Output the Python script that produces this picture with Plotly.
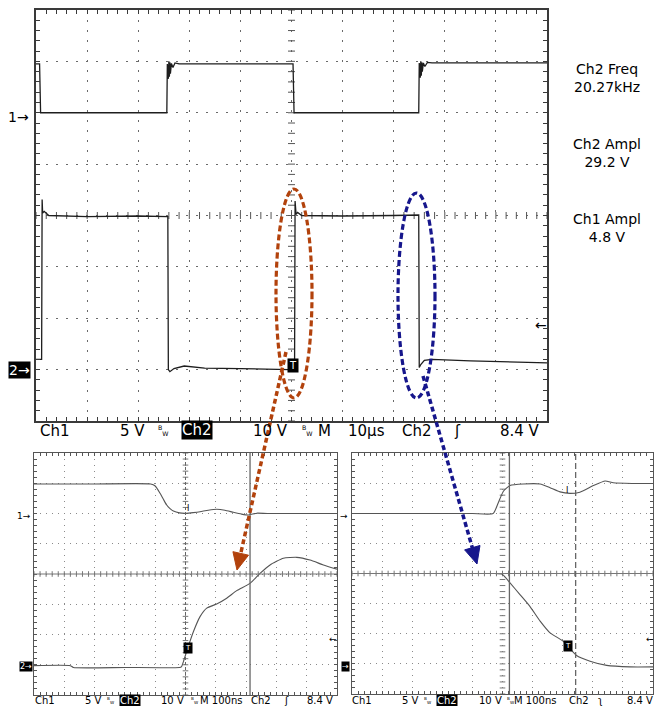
import math
import numpy as np
import plotly.graph_objects as go

W, H = 655, 706

# ---------------- data (divisions: x 0..10, y -4..4) ----------------
# main capture, 10 us/div
main_ch1_t = [0.00, 0.07, 0.09, 2.56, 2.57, 2.59, 2.60, 2.61, 2.62, 2.63, 2.65, 2.68, 2.72, 2.80,
              5.03, 5.05, 7.49, 7.50, 7.52, 7.53, 7.54, 7.55, 7.56, 7.58, 7.61, 7.66, 7.75, 10.0]
main_ch1_v = [2.95, 2.95, 2.00, 2.00, 2.95, 2.66, 3.00, 2.70, 2.98, 2.76, 2.96, 2.88, 2.97, 2.95,
              2.95, 2.00, 2.00, 2.97, 2.68, 3.00, 2.72, 2.98, 2.80, 2.97, 2.90, 2.98, 2.97, 2.97]
main_ch2_t = [0.00, 0.11, 0.12, 0.13, 0.16, 0.25, 1.0, 2.0, 2.58, 2.59,
              2.62, 2.70, 2.90, 3.3, 4.0, 4.95, 5.06, 5.07, 5.09, 5.12,
              5.20, 6.0, 7.0, 7.49, 7.50, 7.53, 7.60, 7.75, 8.5, 10.0]
main_ch2_v = [-2.80, -2.80, 0.31, 0.05, 0.08, 0.00, -0.02, -0.01, -0.02, -3.00,
              -3.04, -2.98, -2.93, -2.97, -2.98, -3.00, -2.98, 0.28, 0.02, 0.06,
              0.00, -0.01, 0.00, 0.01, -2.96, -2.90, -2.82, -2.80, -2.83, -2.87]

# zoom of falling Ch1 edge, 100 ns/div
zl_ch1_t = [0.00, 2.00, 3.85, 4.00, 4.16, 4.27, 4.38, 4.49, 4.60, 4.80, 5.02, 5.25, 5.48, 5.75, 6.03,
            6.30, 6.58, 6.85, 7.07, 7.35, 7.70, 9.00, 10.00]
zl_ch1_v = [2.975, 2.975, 2.975, 2.91, 2.67, 2.47, 2.28, 2.16, 2.08, 2.02, 2.01, 2.03, 2.06, 2.11, 2.14,
            2.11, 2.04, 1.98, 1.95, 2.01, 2.00, 2.00, 2.00]
zl_ch2_t = [0.00, 1.20, 1.30, 3.00, 4.80, 4.87, 4.93, 5.09, 5.26, 5.48, 5.70, 6.03, 6.36, 6.69, 7.13,
            7.46, 7.79, 8.23, 8.67, 9.11, 9.55, 10.00]
zl_ch2_v = [-3.03, -3.03, -3.09, -3.09, -3.09, -3.06, -2.90, -2.40, -1.91, -1.41, -1.13, -0.99, -0.80,
            -0.55, -0.31, 0.02, 0.30, 0.52, 0.55, 0.46, 0.30, 0.16]

# zoom of rising Ch1 edge, 100 ns/div
zr_ch1_t = [0.00, 2.00, 4.00, 4.69, 4.86, 5.03, 5.25, 5.69, 6.25, 6.58, 6.91, 7.24, 7.57, 8.02, 8.41,
            8.68, 9.30, 10.00]
zr_ch1_v = [1.99, 1.99, 1.99, 1.99, 2.35, 2.73, 2.92, 2.97, 2.97, 2.85, 2.71, 2.66, 2.70, 2.92, 3.07,
            3.01, 2.99, 2.99]
zr_ch2_t = [0.00, 2.00, 4.00, 4.70, 5.00, 5.25, 5.58, 5.91, 6.25, 6.58, 7.02, 7.46, 7.91, 8.46, 9.24, 10.00]
zr_ch2_v = [0.00, 0.00, 0.00, 0.00, -0.03, -0.31, -0.70, -1.09, -1.58, -1.97, -2.25, -2.72, -2.91, -3.05,
            -3.10, -3.10]

zl_cursor_t = [7.13]
zr_cursor_t = [5.23, 7.43]

measure_names = ["Ch2 Freq", "Ch2 Ampl", "Ch1 Ampl"]
measure_values = ["20.27kHz", "29.2 V", "4.8 V"]

main_status = ["Ch1", "5 V", "Ch2", "10 V", "M", "10µs", "Ch2", "ʃ", "8.4 V"]
zoom_status_left = ["Ch1", "5 V", "Ch2", "10 V", "M 100ns", "Ch2", "ʃ", "8.4 V"]
zoom_status_right = ["Ch1", "5 V", "Ch2", "10 V", "M 100ns", "Ch2", "ʅ", "8.4 V"]

# ---------------- helpers ----------------
def px(x):
    return x / W


def py(y):
    return 1 - y / H


FONT = "DejaVu Sans"
ORANGE = "#b2420c"
BLUE = "#16168c"

fig = go.Figure()


def axis(dom, rng, dash, tl, lw, lc, gc, anchor):
    return dict(domain=dom, range=rng, showgrid=True, gridcolor=gc, griddash=dash, gridwidth=1,
                dtick=1, tick0=rng[0], showline=True, linecolor=lc, linewidth=lw, mirror="ticks",
                ticks="inside", ticklen=tl, tickcolor=lc, tickwidth=1, showticklabels=False,
                zeroline=False, fixedrange=True, anchor=anchor,
                minor=dict(ticks="inside", dtick=0.2, tick0=rng[0], ticklen=tl, tickcolor=lc,
                           tickwidth=1, showgrid=False))


main_dx = [px(36), px(547)]
main_dy = [py(421), py(10)]
zl_dx = [px(34), px(337)]
zl_dy = [py(695), py(453)]
zr_dx = [px(352), px(653)]
zr_dy = [py(694), py(453)]

layout = dict(
    width=W, height=H, margin=dict(l=0, r=0, t=0, b=0),
    paper_bgcolor="white", plot_bgcolor="white", showlegend=False,
    xaxis=axis(main_dx, [0, 10], "2px,8px", 4, 2, "#3a3a3a", "#6a6a6a", "y"),
    yaxis=axis(main_dy, [-4, 4], "2px,8px", 4, 2, "#3a3a3a", "#6a6a6a", "x"),
    xaxis2=axis(zl_dx, [0, 10], "1px,5px", 3, 1.2, "#555", "#8a8a8a", "y2"),
    yaxis2=axis(zl_dy, [-4, 4], "1px,5px", 3, 1.2, "#555", "#8a8a8a", "x2"),
    xaxis3=axis(zr_dx, [0, 10], "1px,5px", 3, 1.2, "#555", "#8a8a8a", "y3"),
    yaxis3=axis(zr_dy, [-4, 4], "1px,5px", 3, 1.2, "#555", "#8a8a8a", "x3"),
)
fig.update_layout(**layout)

# center crosshair ticks
for xa, ya, sz, col in [("x", "y", 5, "#555"), ("x2", "y2", 4, "#777"), ("x3", "y3", 4, "#777")]:
    hx = np.arange(0, 10.001, 0.2)
    fig.add_trace(go.Scatter(x=hx, y=np.zeros_like(hx), xaxis=xa, yaxis=ya, mode="markers",
                             marker=dict(symbol="line-ns", size=sz, line=dict(width=1, color=col)),
                             hoverinfo="skip"))
    vy = np.arange(-4, 4.001, 0.2)
    fig.add_trace(go.Scatter(x=np.full_like(vy, 5.0), y=vy, xaxis=xa, yaxis=ya, mode="markers",
                             marker=dict(symbol="line-ew", size=sz, line=dict(width=1, color=col)),
                             hoverinfo="skip"))

shapes = []
# solid centre lines for zoomed captures
shapes.append(dict(type="line", xref="x2", yref="y2", x0=0, x1=10, y0=0, y1=0,
                   line=dict(color="#777", width=1)))
shapes.append(dict(type="line", xref="x2", yref="y2", x0=5, x1=5, y0=-4, y1=4,
                   line=dict(color="#666", width=1, dash="3px,2px")))
shapes.append(dict(type="line", xref="x3", yref="y3", x0=0, x1=10, y0=0, y1=0,
                   line=dict(color="#777", width=1)))
# cursors
for t in zl_cursor_t:
    shapes.append(dict(type="line", xref="x2", yref="y2", x0=t, x1=t, y0=-4, y1=4,
                       line=dict(color="#666", width=1.3)))
shapes.append(dict(type="line", xref="x3", yref="y3", x0=zr_cursor_t[0], x1=zr_cursor_t[0], y0=-4, y1=4,
                   line=dict(color="#666", width=1.3)))
shapes.append(dict(type="line", xref="x3", yref="y3", x0=zr_cursor_t[1], x1=zr_cursor_t[1], y0=-4, y1=4,
                   line=dict(color="#666", width=1.3, dash="6px,3px")))

# waveforms
fig.add_trace(go.Scatter(x=main_ch1_t, y=main_ch1_v, mode="lines", line=dict(color="#1e1e1e", width=1.3),
                         hoverinfo="skip"))
fig.add_trace(go.Scatter(x=main_ch2_t, y=main_ch2_v, mode="lines", line=dict(color="#1e1e1e", width=1.3),
                         hoverinfo="skip"))
for t, v, xa, ya in [(zl_ch1_t, zl_ch1_v, "x2", "y2"), (zl_ch2_t, zl_ch2_v, "x2", "y2"),
                     (zr_ch1_t, zr_ch1_v, "x3", "y3"), (zr_ch2_t, zr_ch2_v, "x3", "y3")]:
    fig.add_trace(go.Scatter(x=t, y=v, xaxis=xa, yaxis=ya, mode="lines",
                             line=dict(color="#555", width=1.1, shape="spline", smoothing=0.5),
                             hoverinfo="skip"))

# ellipses
shapes.append(dict(type="circle", xref="paper", yref="paper", x0=px(276), x1=px(312), y0=py(398), y1=py(189),
                   line=dict(color=ORANGE, width=3.2, dash="6px,3px")))
shapes.append(dict(type="circle", xref="paper", yref="paper", x0=px(398), x1=px(435), y0=py(398), y1=py(193),
                   line=dict(color=BLUE, width=3.2, dash="6px,3px")))


def arrow(x0, y0, x1, y1, color):
    dx, dy = x1 - x0, y1 - y0
    L = math.hypot(dx, dy)
    ux, uy = dx / L, dy / L
    hl, hw = 17, 8
    bx, by = x1 - hl * ux, y1 - hl * uy
    pxv, pyv = -uy, ux
    shapes.append(dict(type="line", xref="paper", yref="paper", x0=px(x0), y0=py(y0),
                       x1=px(bx + 2 * ux), y1=py(by + 2 * uy),
                       line=dict(color=color, width=3.5, dash="5px,3px")))
    pts = [(x1, y1), (bx + hw * pxv, by + hw * pyv), (bx - hw * pxv, by - hw * pyv)]
    path = "M " + " L ".join(f"{px(a):.5f},{py(b):.5f}" for a, b in pts) + " Z"
    shapes.append(dict(type="path", xref="paper", yref="paper", path=path,
                       fillcolor=color, line=dict(color=color, width=1)))


arrow(286, 352, 237, 570, ORANGE)
arrow(423, 376, 477, 564, BLUE)

fig.update_layout(shapes=shapes)

ann = []


def text(t, x, y, size, color="black", bg=None, xanchor="center", pad=0):
    d = dict(text=t, x=px(x), y=py(y), xref="paper", yref="paper", showarrow=False,
             xanchor=xanchor, yanchor="middle", font=dict(family=FONT, size=size, color=color))
    if bg:
        d["bgcolor"] = bg
        d["borderpad"] = pad
    ann.append(d)


# measurements (two-line readouts)
for i, (n, v) in enumerate(zip(measure_names, measure_values)):
    text(f"{n}<br>{v}", 607, 77.5 + 75 * i, 14)

# main status line
main_x = [55, 132, 197, 270, 324, 366, 417, 457, 520]
for i, (t, x) in enumerate(zip(main_status, main_x)):
    if i == 2:
        text(t, x, 430, 15, color="white", bg="black", pad=0)
    else:
        text(t, x, 431, 15)
text("<sup>B</sup><sub>W</sub>", 163, 430, 9)
text("<sup>B</sup><sub>W</sub>", 307, 430, 9)

# main ground / trigger markers
text("1→", 31, 117, 14, xanchor="right")
text("2→", 31, 370, 14, color="white", bg="black", xanchor="right", pad=0)
text("←", 541, 325, 14)
text("T", 293, 365, 10, color="white", bg="black", pad=1)

# zoom status lines
zl_x = [45, 93, 130, 172, 221, 261, 286, 320]
zr_x = [362, 410, 447, 490, 535, 579, 600, 640]
for labels, xs, bwx in [(zoom_status_left, zl_x, [110, 194]), (zoom_status_right, zr_x, [428, 510])]:
    for i, (t, x) in enumerate(zip(labels, xs)):
        if i == 2:
            text(t, x, 700, 10, color="white", bg="black", pad=0)
        else:
            text(t, x, 700, 10)
    for b in bwx:
        text("<sup>B</sup><sub>W</sub>", b, 700, 6)

# zoom markers
text("1→", 33, 516, 9, xanchor="right")
text("2→", 33, 666, 8, color="white", bg="black", xanchor="right", pad=0)
text("←", 333, 639, 9)
text("→", 350, 516, 9, xanchor="right")
text("→", 350, 666, 8, color="white", bg="black", xanchor="right", pad=0)
text("←", 650, 639, 9)
text("T", 188, 648, 7, color="white", bg="black", pad=1)
text("T", 568, 646, 7, color="white", bg="black", pad=1)
text("I", 188, 508, 8)
text("I", 567, 490, 8)

fig.update_layout(annotations=ann)
fig.write_html("out.html", config={"displayModeBar": False},
               post_script="document.body.style.margin='0';document.body.style.padding='0';"
                           "document.body.style.overflow='hidden';")
